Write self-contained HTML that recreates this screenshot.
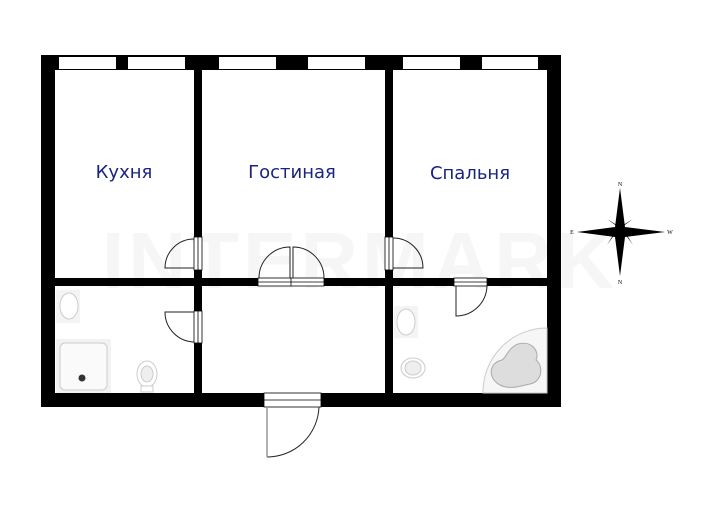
<!DOCTYPE html>
<html><head><meta charset="utf-8"><style>
html,body{margin:0;padding:0;background:#fff;}
svg{display:block;}
</style></head><body>
<svg width="721" height="515" viewBox="0 0 721 515" xmlns="http://www.w3.org/2000/svg">
<text x="360" y="288" text-anchor="middle" font-family="Liberation Sans, sans-serif" font-weight="bold" font-size="80" fill="#f6f6f6" letter-spacing="4">INTERMARK</text>
<!-- walls -->
<path fill="#000" fill-rule="evenodd" d="M41,55H561V407H41Z M55,70H194V278H55Z M202,70H385V278H202Z M393,70H547V278H393Z M55,286H194V393H55Z M202,286H385V393H202Z M393,286H547V393H393Z"/>
<!-- windows -->
<g fill="#fff">
<rect x="59" y="57" width="57" height="12"/><rect x="128" y="57" width="57" height="12"/>
<rect x="219" y="57" width="57" height="12"/><rect x="308" y="57" width="57" height="12"/>
<rect x="403" y="57" width="57" height="12"/><rect x="482" y="57" width="56" height="12"/>
</g>
<!-- door openings -->
<g fill="#fff" stroke="#000" stroke-width="0.8">
<rect x="194" y="237" width="8" height="33"/>
<rect x="258" y="278" width="66" height="8"/>
<rect x="385" y="237" width="8" height="33"/>
<rect x="454" y="278" width="33" height="8"/>
<rect x="194" y="311" width="8" height="32"/>
<rect x="264" y="393" width="57" height="14"/>
</g>
<g stroke="#000" stroke-width="0.8" fill="none">
<line x1="198" y1="237" x2="198" y2="270"/>
<line x1="258" y1="282" x2="324" y2="282"/>
<line x1="389" y1="237" x2="389" y2="270"/>
<line x1="454" y1="282" x2="487" y2="282"/>
<line x1="198" y1="311" x2="198" y2="343"/>
<line x1="264" y1="400" x2="321" y2="400"/>
<line x1="291" y1="278" x2="291" y2="286"/>
</g>
<!-- door swings -->
<g stroke="#222" stroke-width="1" fill="none">
<path d="M194,268H165A29,29 0 0 1 194,239"/>
<path d="M290,278V247A31,31 0 0 0 259,278"/>
<path d="M293,278V247A31,31 0 0 1 324,278"/>
<path d="M393,268H423A30,30 0 0 0 393,238"/>
<path d="M456,286V316A31,31 0 0 0 487,286"/>
<path d="M194,312H165A30,30 0 0 0 194,342"/>
<path d="M319,407A52,52 0 0 1 267,457" />
</g>
<line x1="267" y1="407" x2="267" y2="457" stroke="#999" stroke-width="1.5"/>
<!-- fixtures -->
<g fill="#eee" stroke="#ccc" stroke-width="1">
<rect x="56" y="290" width="24" height="33" fill="#f4f4f4" stroke="none"/>
<ellipse cx="69" cy="306" rx="9" ry="13" fill="#fff"/>
<rect x="56" y="339" width="55" height="54" fill="#f2f2f2" stroke="none"/>
<rect x="60" y="343" width="47" height="47" rx="5" fill="#fafafa"/>
<ellipse cx="147" cy="374" rx="10" ry="13" fill="#fff"/>
<ellipse cx="147" cy="374" rx="6" ry="8"/>
<rect x="141" y="386" width="12" height="6" fill="#fff"/>
<rect x="394" y="306" width="24" height="32" fill="#f4f4f4" stroke="none"/>
<ellipse cx="406" cy="322" rx="9" ry="13" fill="#fff"/>
<ellipse cx="413" cy="368" rx="12" ry="10" fill="#fff"/>
<ellipse cx="413" cy="368" rx="8" ry="7"/>
<path d="M547,328V393H483A64,64 0 0 1 547,328Z" fill="#f6f6f6"/>
<path d="M500,385c-12,-6 -12,-22 2,-25c4,-2 6,-12 16,-16c14,-4 22,8 18,16c8,6 6,22 -6,24c-10,2 -20,6 -30,1z" fill="#ddd" stroke="#aaa"/>
</g>
<circle cx="82" cy="378" r="3.5" fill="#333"/>
<!-- labels -->
<g font-family="DejaVu Sans, Liberation Sans, sans-serif" font-size="18" fill="#1a237e" text-anchor="middle">
<text x="124" y="178">Кухня</text>
<text x="292" y="178">Гостиная</text>
<text x="470" y="179">Спальня</text>
</g>
<!-- compass -->
<g transform="translate(620,232)" fill="#000">
<path d="M0,-44L5,-5L0,0L-5,-5Z M0,44L5,5L0,0L-5,5Z M-43,0L-5,-5L0,0L-5,5Z M45,0L5,-5L0,0L5,5Z"/>
<path d="M0,0L14,-14L3,-3Z M0,0L14,14L3,3Z M0,0L-14,14L-3,3Z M0,0L-14,-14L-3,-3Z M0,-5L13,-13L-5,0L-13,13Z M5,0L13,13L0,-5L-13,-13Z"/>
<g font-family="Liberation Serif, serif" font-size="6" text-anchor="middle">
<text x="0" y="-46">N</text><text x="0" y="52">N</text>
<text x="-48" y="2">E</text><text x="50" y="2">W</text>
</g>
</g>
</svg>
</body></html>
